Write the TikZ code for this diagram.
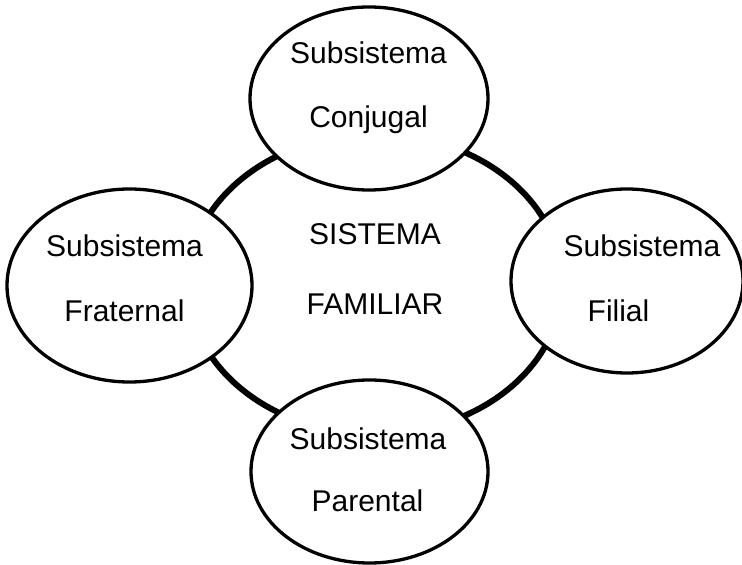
\documentclass[tikz,border=0pt]{standalone}
\usepackage{fontspec}
\setmainfont{Liberation Sans}
\usetikzlibrary{shapes.geometric}
\begin{document}
\begin{tikzpicture}[x=1pt,y=1pt,
  subbox/.style={ellipse,draw=black,fill=white,line width=3.3pt,inner sep=0pt},
  bigring/.style={ellipse,draw=black,line width=6pt,inner sep=0pt,minimum width=374pt,minimum height=300pt},
  lbl/.style={anchor=base,inner sep=0pt,font=\fontsize{30}{36}\selectfont}]
\useasboundingbox (0,0) rectangle (742,565);
\node[bigring] (sys) at (375,281) {};
\node[subbox,minimum width=238pt,minimum height=183pt] (conj) at (369,466.5) {};
\node[subbox,minimum width=245pt,minimum height=193pt] (frat) at (129.5,279.5) {};
\node[subbox,minimum width=232pt,minimum height=184pt] (fil) at (627,284) {};
\node[subbox,minimum width=237pt,minimum height=183pt] (par) at (369.5,93.5) {};
\node[lbl] (t1) at (368.5,501) {Subsistema};
\node[lbl] (t2) at (368.5,437) {Conjugal};
\node[lbl] (l1) at (124.5,308) {Subsistema};
\node[lbl] (l2) at (124.5,243) {Fraternal};
\node[lbl] (c1) at (375,320) {SISTEMA};
\node[lbl] (c2) at (375,250) {FAMILIAR};
\node[lbl] (r1) at (642,308) {Subsistema};
\node[lbl] (r2) at (618.5,243) {Filial};
\node[lbl] (b1) at (368,115) {Subsistema};
\node[lbl] (b2) at (367.5,53) {Parental};
\end{tikzpicture}
\end{document}
